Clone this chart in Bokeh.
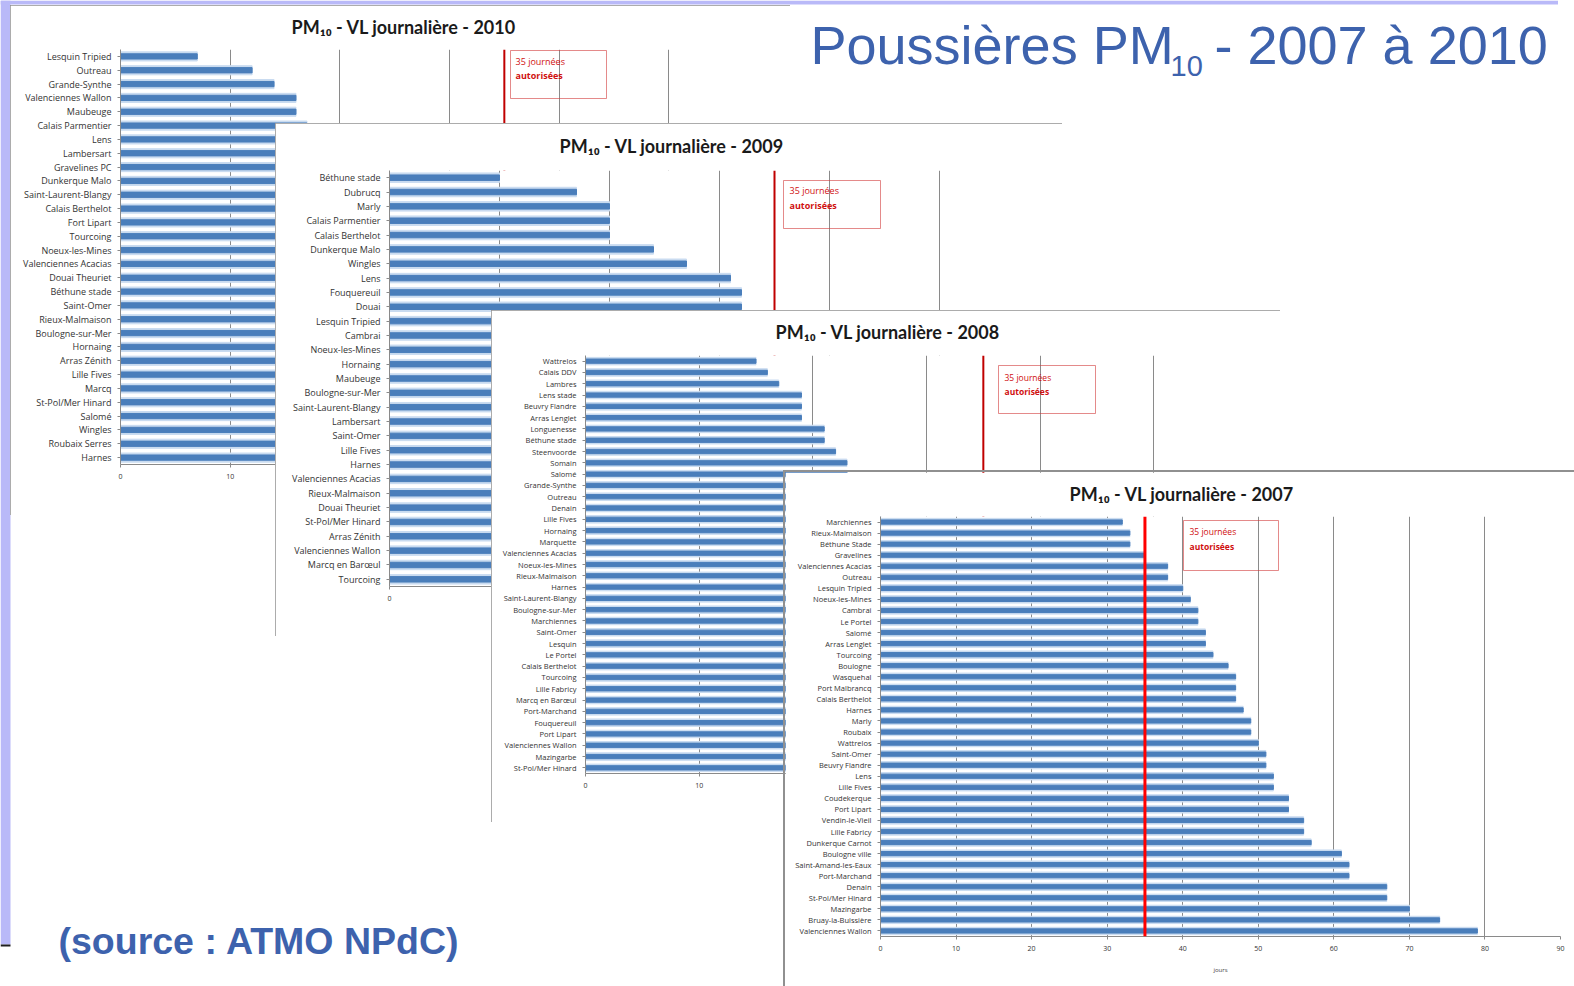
from bokeh.plotting import figure
from bokeh.models import FactorRange, Range1d, Span, BoxAnnotation, Label, Column, FixedTicker
from bokeh.embed import file_html
from bokeh.resources import INLINE

# ---------------- data ----------------
names_2010 = ["Lesquin Tripied", "Outreau", "Grande-Synthe", "Valenciennes Wallon", "Maubeuge",
              "Calais Parmentier", "Lens", "Lambersart", "Gravelines PC", "Dunkerque Malo",
              "Saint-Laurent-Blangy", "Calais Berthelot", "Fort Lipart", "Tourcoing", "Noeux-les-Mines",
              "Valenciennes Acacias", "Douai Theuriet", "Béthune stade", "Saint-Omer", "Rieux-Malmaison",
              "Boulogne-sur-Mer", "Hornaing", "Arras Zénith", "Lille Fives", "Marcq",
              "St-Pol/Mer Hinard", "Salomé", "Wingles", "Roubaix Serres", "Harnes"]
days_2010 = [7, 12, 14, 16, 16, 17, 18, 18, 19, 20, 21, 22, 22, 23, 24, 25, 26, 27, 28, 29,
             30, 31, 32, 33, 34, 36, 38, 40, 42, 45]

names_2009 = ["Béthune stade", "Dubrucq", "Marly", "Calais Parmentier", "Calais Berthelot",
              "Dunkerque Malo", "Wingles", "Lens", "Fouquereuil", "Douai",
              "Lesquin Tripied", "Cambrai", "Noeux-les-Mines", "Hornaing", "Maubeuge",
              "Boulogne-sur-Mer", "Saint-Laurent-Blangy", "Lambersart", "Saint-Omer", "Lille Fives",
              "Harnes", "Valenciennes Acacias", "Rieux-Malmaison", "Douai Theuriet", "St-Pol/Mer Hinard",
              "Arras Zénith", "Valenciennes Wallon", "Marcq en Barœul", "Tourcoing"]
days_2009 = [10, 17, 20, 20, 20, 24, 27, 31, 32, 32, 33, 34, 35, 36, 37, 38, 39, 40, 41, 42,
             43, 45, 46, 48, 50, 52, 55, 58, 62]

names_2008 = ["Wattrelos", "Calais DDV", "Lambres", "Lens stade", "Beuvry Flandre",
              "Arras Lenglet", "Longuenesse", "Béthune stade", "Steenvoorde", "Somain",
              "Salomé", "Grande-Synthe", "Outreau", "Denain", "Lille Fives",
              "Hornaing", "Marquette", "Valenciennes Acacias", "Noeux-les-Mines", "Rieux-Malmaison",
              "Harnes", "Saint-Laurent-Blangy", "Boulogne-sur-Mer", "Marchiennes", "Saint-Omer",
              "Lesquin", "Le Portel", "Calais Berthelot", "Tourcoing", "Lille Fabricy",
              "Marcq en Barœul", "Port-Marchand", "Fouquereuil", "Port Lipart", "Valenciennes Wallon",
              "Mazingarbe", "St-Pol/Mer Hinard"]
days_2008 = [15, 16, 17, 19, 19, 19, 21, 21, 22, 23, 23, 24, 24, 25, 26, 26, 27, 28, 28, 29,
             30, 31, 32, 33, 34, 35, 36, 37, 38, 40, 42, 44, 46, 49, 52, 56, 60]

names_2007 = ["Marchiennes", "Rieux-Malmaison", "Béthune Stade", "Gravelines", "Valenciennes Acacias",
              "Outreau", "Lesquin Tripied", "Noeux-les-Mines", "Cambrai", "Le Portel",
              "Salomé", "Arras Lenglet", "Tourcoing", "Boulogne", "Wasquehal",
              "Port Malbrancq", "Calais Berthelot", "Harnes", "Marly", "Roubaix",
              "Wattrelos", "Saint-Omer", "Beuvry Flandre", "Lens", "Lille Fives",
              "Coudekerque", "Port Lipart", "Vendin-le-Vieil", "Lille Fabricy", "Dunkerque Carnot",
              "Boulogne ville", "Saint-Amand-les-Eaux", "Port-Marchand", "Denain", "St-Pol/Mer Hinard",
              "Mazingarbe", "Bruay-la-Buissière", "Valenciennes Wallon"]
days_2007 = [32, 33, 33, 35, 38, 38, 40, 41, 42, 42, 43, 43, 44, 46, 47, 47, 47, 48, 49, 49,
             50, 51, 51, 52, 52, 54, 54, 56, 56, 57, 61, 62, 62, 67, 67, 70, 74, 79]

limit_days = 35
note_lines = ["35 journées", "autorisées"]
chart_title = "PM\u2081\u2080 - VL journalière - %d"

BLUE_TXT = "#3d62ad"
BG_W, BG_H = 1558, 970


def panel(year, names, days, xmax, geom, frame, title_x, box, notes, red_color, red_width,
          label_size, note_size, z, xlabel=None, outline_offset="-2px"):
    n = len(names)
    pl, pt, pw, ph = geom
    fl, fr, ft, fb = frame
    pitch = (fb - ft) / n
    mbt = ft - pt

    def dx(X):
        return (X - fl) / (fr - fl) * xmax

    def dy(Y):
        return n - (Y - ft) / pitch

    p = figure(width=pw, height=ph,
               y_range=FactorRange(factors=names[::-1]), x_range=Range1d(0, xmax),
               output_backend="svg", toolbar_location=None,
               min_border_left=fl - pl, min_border_right=pl + pw - fr,
               min_border_top=mbt, min_border_bottom=pt + ph - fb,
               background_fill_color="white", border_fill_color="white", outline_line_color=None)
    p.frame_align = False

    p.title.text = chart_title % year
    p.title.align = "left"
    p.title.offset = title_x - fl
    p.title.vertical_align = "top"
    p.title.standoff = mbt - 24
    p.title.text_font = "Lato"
    p.title.text_font_size = "18px"
    p.title.text_font_style = "bold"
    p.title.text_color = "#1a1a1a"

    ticks = list(range(0, xmax + 1, 10))
    p.xaxis.ticker = FixedTicker(ticks=ticks)
    p.xgrid.ticker = FixedTicker(ticks=ticks)
    p.xgrid.grid_line_color = "#8a8a8a"
    p.xgrid.grid_line_width = 1
    p.ygrid.grid_line_color = None

    p.hbar(y=names, right=days, left=0, height=0.66, color="#c9dbf0")
    p.hbar(y=names, right=days, left=0, height=0.38, color="#4a7ebb")

    p.add_layout(Span(location=limit_days, dimension="height", line_color=red_color,
                      line_width=red_width))
    bx0, bx1, by0, by1 = box
    p.add_layout(BoxAnnotation(left=dx(bx0), right=dx(bx1), top=dy(by0), bottom=dy(by1),
                               fill_alpha=0, line_color="#d23c3c", line_width=1, line_alpha=0.6))
    nx, ny0, ny1 = notes
    for txt, Y, style in zip(note_lines, [ny0, ny1], ["normal", "bold"]):
        p.add_layout(Label(x=dx(nx), y=dy(Y), text=txt, text_font="Open Sans",
                           text_font_size=note_size, text_font_style=style,
                           text_color="#d01010", text_baseline="middle"))

    for ax in (p.xaxis, p.yaxis):
        ax.axis_line_color = "#8a8a8a"
        ax.major_tick_line_color = "#8a8a8a"
        ax.minor_tick_line_color = None
        ax.major_tick_in = 0
        ax.major_tick_out = 3
        ax.major_label_text_font = "Open Sans"
        ax.major_label_text_color = "#333333"
    p.yaxis.major_label_text_font_size = label_size
    p.yaxis.major_label_standoff = 6
    p.xaxis.major_label_text_font_size = "7px"
    p.xaxis.major_label_standoff = 6
    if xlabel:
        p.xaxis.axis_label = xlabel
        p.xaxis.axis_label_text_font = "Open Sans"
        p.xaxis.axis_label_text_font_size = "6px"
        p.xaxis.axis_label_text_font_style = "normal"
        p.xaxis.axis_label_standoff = 12

    p.styles = {"position": "absolute", "left": "%dpx" % pl, "top": "%dpx" % pt,
                "z-index": str(z), "outline": "2px solid #909090",
                "outline-offset": outline_offset}
    return p


# background slide (page pixel coordinates)
bg = figure(width=BG_W, height=BG_H, x_range=Range1d(0, BG_W), y_range=Range1d(BG_H, 0),
            output_backend="svg", toolbar_location=None, min_border=0, title=None,
            x_axis_location=None, y_axis_location=None,
            background_fill_color="white", border_fill_color="white", outline_line_color=None)
bg.frame_align = False
bg.grid.visible = False
bg.add_layout(BoxAnnotation(left=0, right=BG_W, top=0, bottom=4, fill_color="#b9b9f8",
                            fill_alpha=1, line_color=None))
bg.add_layout(BoxAnnotation(left=0, right=10, top=0, bottom=944, fill_color="#b9b9f8",
                            fill_alpha=1, line_color=None))
bg.add_layout(BoxAnnotation(left=0, right=10, top=944, bottom=946, fill_color="#202020",
                            fill_alpha=1, line_color=None))
bg.add_layout(Label(x=810, y=44, text="Poussières PM", text_font="Liberation Sans",
                    text_font_size="54px", text_color=BLUE_TXT, text_baseline="middle"))
bg.add_layout(Label(x=1170, y=65, text="10", text_font="Liberation Sans",
                    text_font_size="29px", text_color=BLUE_TXT, text_baseline="middle"))
bg.add_layout(Label(x=1214, y=44, text="- 2007 à 2010", text_font="Liberation Sans",
                    text_font_size="54px", text_color=BLUE_TXT, text_baseline="middle"))
bg.add_layout(Label(x=58, y=940, text="(source : ATMO NPdC)", text_font="Liberation Sans",
                    text_font_size="37.5px", text_font_style="bold", text_color=BLUE_TXT,
                    text_baseline="middle"))
bg.styles = {"position": "absolute", "left": "0px", "top": "0px", "z-index": "0"}

p2010 = panel(2010, names_2010, days_2010, 60, (10, 5, 780, 510), (120, 778, 49, 464),
              291, (510, 606, 50, 98), (515, 61, 75), "#c00000", 2, "9px", "9px", 1)
p2009 = panel(2009, names_2009, days_2009, 60, (275, 123, 787, 513), (389, 1049, 170, 586),
              559, (783, 880, 180, 228), (789, 190, 205), "#c00000", 2, "9px", "9px", 2)
p2008 = panel(2008, names_2008, days_2008, 60, (491, 310, 789, 512), (585, 1267, 355, 773),
              775, (998, 1095, 365, 413), (1004, 377, 391), "#c00000", 2, "7.5px", "8.5px", 3)
p2007 = panel(2007, names_2007, days_2007, 90, (785, 472, 789, 514), (880, 1560, 516, 936),
              1069, (1183, 1278, 520, 570), (1189, 531, 546), "#ff0000", 3, "7.5px", "8.5px", 4,
              xlabel="jours", outline_offset="0px")

root = Column(children=[bg, p2010, p2009, p2008, p2007], width=1558, height=970,
              sizing_mode="fixed")

open("out.html", "w").write(file_html(root, INLINE, "Poussières PM10"))
